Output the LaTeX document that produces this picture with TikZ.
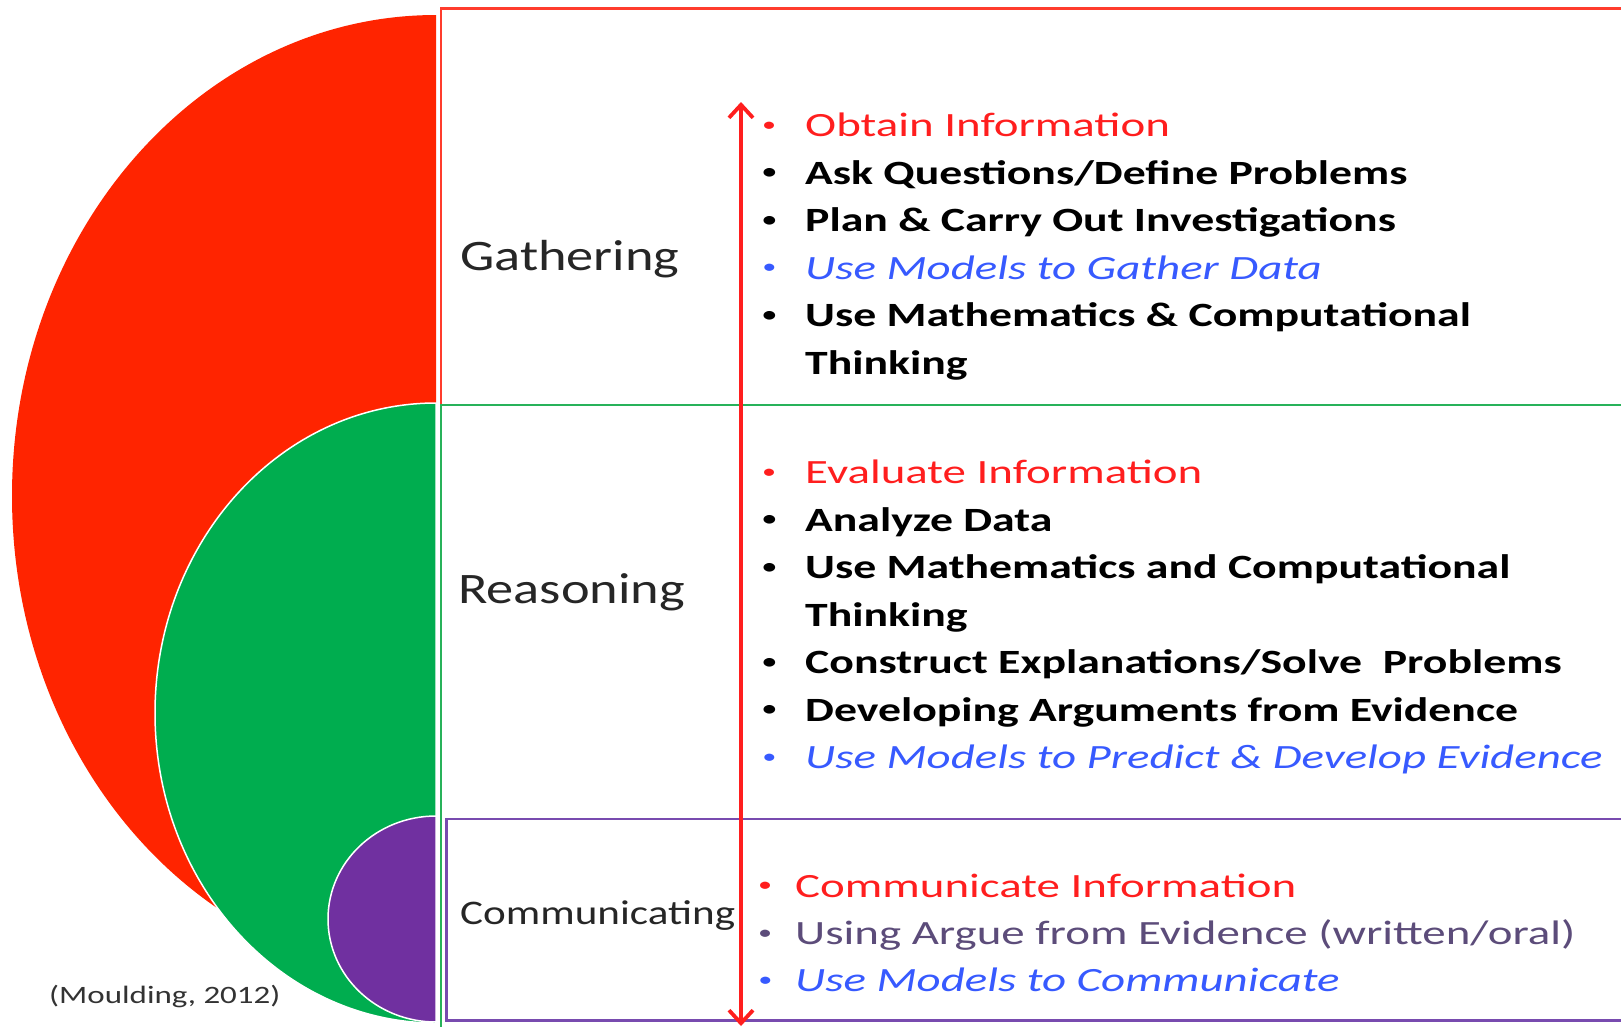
\documentclass[tikz,border=0pt]{standalone}
\usepackage{graphicx}
\usepackage{fontspec}
\setmainfont{Carlito}
\newfontfamily\diagfont{Carlito}[FakeStretch=1.25]
\newfontfamily\citefont{Carlito}[FakeStretch=1.32]
\newfontfamily\itemfont{Carlito}[FakeStretch=1.38]
\newfontfamily\itemboldfont{Carlito}[FakeStretch=1.345]
\usetikzlibrary{arrows.meta}

\definecolor{shapered}{RGB}{255,36,0}
\definecolor{shapegreen}{RGB}{0,173,79}
\definecolor{shapepurple}{RGB}{112,48,160}
\definecolor{boxred}{RGB}{255,60,45}
\definecolor{boxgreen}{RGB}{40,178,90}
\definecolor{boxpurple}{RGB}{120,75,175}
\definecolor{keyred}{RGB}{255,30,30}
\definecolor{modelblue}{RGB}{55,90,255}
\definecolor{arguegrey}{RGB}{92,76,122}

% small bullet hanging to the left of the item text
\newcommand{\bul}[1][29pt]{\llap{\raisebox{0.15em}{\scalebox{0.6}{\textbullet}}\hspace{#1}}}

\tikzset{
  stage/.style={font={\diagfont\fontsize{43.5}{50}\selectfont}, anchor=base west, inner sep=0pt, text=black!85},
  stagesmall/.style={stage, font={\diagfont\fontsize{34.5}{40}\selectfont}},
  itembase/.style={anchor=base west, inner sep=0pt},
  item/.style={itembase, font={\itemboldfont\bfseries\fontsize{34}{40}\selectfont}, text=black},
  keyitem/.style={itembase, font={\itemfont\fontsize{34}{40}\selectfont}, text=keyred},
  modelitem/.style={itembase, font={\itemfont\itshape\fontsize{34}{40}\selectfont}, text=modelblue},
  argueitem/.style={itembase, font={\itemfont\fontsize{34}{40}\selectfont}, text=arguegrey},
  cite/.style={anchor=base west, inner sep=0pt, font={\citefont\fontsize{25}{30}\selectfont}, text=black!80},
  boxline/.style={line width=2.2pt},
  spanarrow/.style={draw=keyred, line width=3.8pt, {Straight Barb[length=13pt,width=24pt,line width=3.8pt]}-{Straight Barb[length=13pt,width=24pt,line width=3.8pt]}},
}

\begin{document}
\begin{tikzpicture}[x=1pt,y=-1pt]
\useasboundingbox (0,0) rectangle (1621,1026);
\clip (0,0) rectangle (1621,1026);
\fill[white] (0,0) rectangle (1621,1026);

% nested half-ellipses
\fill[shapered] (436,15) arc[start angle=270, end angle=90, x radius=424, y radius=481] -- cycle;
\filldraw[fill=shapegreen, draw=white, line width=1.5pt] (436,403) arc[start angle=270, end angle=90, x radius=281, y radius=310] -- cycle;
\filldraw[fill=shapepurple, draw=white, line width=1.5pt] (436,816) arc[start angle=270, end angle=90, x radius=108, y radius=103] -- cycle;

% stage frames
\draw[boxline, draw=boxred] (441,405) -- (441,8.5) -- (1630,8.5);
\draw[boxline, draw=boxgreen] (1630,405) -- (441,405) -- (441,1030);
\draw[boxline, draw=boxpurple] (1630,819) -- (446.5,819) -- (446.5,1020.5) -- (1630,1020.5);

% stage names
\node[stage] (gathering) at (460,270.5) {Gathering};
\node[stage] (reasoning) at (458,603) {Reasoning};
\node[stagesmall] (communicating) at (460,924) {Communicating};
\node[cite] (source) at (49,1003) {(Moulding, 2012)};

% double arrow spanning all stages
\coordinate (spantop) at (741,102);
\coordinate (spanbot) at (741,1026);
\draw[spanarrow] (spantop) -- (spanbot);

% gathering practices
\node[keyitem] (g1) at (805,136.5) {\bul Obtain Information};
\node[item] (g2) at (805,184) {\bul Ask Questions/Define Problems};
\node[item] (g3) at (805,231.5) {\bul Plan \& Carry Out Investigations};
\node[modelitem] (g4) at (805,279) {\bul Use Models to Gather Data};
\node[item] (g5) at (805,326.5) {\bul Use Mathematics \& Computational};
\node[item] (g5b) at (805,374) {Thinking};

% reasoning practices
\node[keyitem] (r1) at (805,483.5) {\bul Evaluate Information};
\node[item] (r2) at (805,531) {\bul Analyze Data};
\node[item] (r3) at (805,578.5) {\bul Use Mathematics and Computational};
\node[item] (r3b) at (805,626) {Thinking};
\node[item] (r4) at (805,673.5) {\bul Construct Explanations/Solve\ \ Problems};
\node[item] (r5) at (805,721) {\bul Developing Arguments from Evidence};
\node[modelitem] (r6) at (805,768.5) {\bul Use Models to Predict \& Develop Evidence};

% communicating practices
\node[keyitem] (c1) at (795,897) {\bul[23pt]Communicate Information};
\node[argueitem] (c2) at (795,944.5) {\bul[23pt]Using Argue from Evidence (written/oral)};
\node[modelitem] (c3) at (795,991.5) {\bul[23pt]Use Models to Communicate};
\end{tikzpicture}
\end{document}
